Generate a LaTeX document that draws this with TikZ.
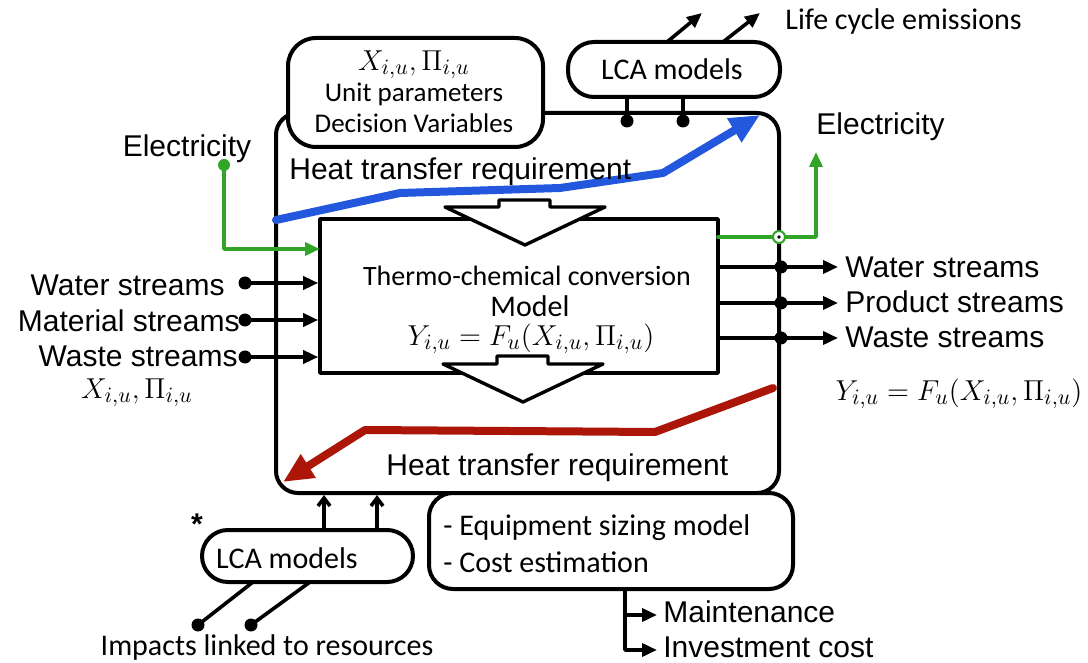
\documentclass[tikz,border=0pt]{standalone}
\usepackage[no-math]{fontspec}
\setmainfont{Liberation Sans}
\newfontfamily\calibri{Carlito}
\usetikzlibrary{arrows.meta,fit}
\definecolor{heatblue}{RGB}{35,88,222}
\definecolor{heatred}{RGB}{172,22,8}
\definecolor{elecgreen}{RGB}{48,165,40}
\tikzset{
  frame/.style={draw,line width=2pt,inner sep=0pt,fill=white},
  txt/.style={inner sep=0pt,font=\fontsize{15}{18}\selectfont},
  caltxt/.style={inner sep=0pt,font=\calibri\fontsize{15}{18}\selectfont},
  wire/.style={line width=1.8pt},
  flow/.style={wire,->},
  blob/.style={circle,fill,inner sep=0pt,minimum size=6.5pt},
  heat/.style={line width=4pt,-{Triangle[length=15pt,width=13pt]}},
  hollow/.style={line width=1.7pt,fill=white},
}
\begin{document}
\begin{tikzpicture}[line cap=round,line join=round,>={Triangle[length=7.5pt,width=6.5pt]},x=.5pt,y=-.5pt]
\useasboundingbox (0,0) rectangle (1088,663);
% unit
\node[frame,rounded corners=11pt,fit={(276,113) (779,493)}] (unit) {};
\draw[heat,heatblue] (276,220) -- (400,193) -- (560,188) -- (663,173) -- (760,115);
\draw[heat,heatred] (773,388) -- (655,432) -- (365,430) -- (283,482);
\node[txt,anchor=base west] (htop) at (289,180) {Heat transfer requirement};
\node[txt,anchor=base west] (hbot) at (386,475) {Heat transfer requirement};
% conversion model
\node[draw,line width=1.8pt,inner sep=0pt,fit={(320,219) (718,373)}] (model) {};
\draw[hollow] (499,200) -- (550,200) -- (550,207) -- (605,207) -- (525,245) -- (445,207) -- (499,207) -- cycle;
\draw[hollow] (497,356) -- (548,356) -- (548,364) -- (603,364) -- (523,402) -- (443,364) -- (497,364) -- cycle;
\node[caltxt,font=\calibri\fontsize{14}{17}\selectfont,anchor=base] (conv) at (527,286) {Thermo-chemical conversion};
\node[caltxt,anchor=base] (mdl) at (530,317) {Model};
\node[txt] (feq) at (531,339) {$Y_{i,u}=F_u(X_{i,u},\Pi_{i,u})$};
% parameters
\node[frame,rounded corners=14pt,fit={(288,38) (543,147)}] (par) {};
\node[txt] (xpi) at (414,65) {$X_{i,u},\Pi_{i,u}$};
\node[caltxt,font=\calibri\fontsize{13.5}{16}\selectfont,anchor=base] (upar) at (414,102) {Unit parameters};
\node[caltxt,font=\calibri\fontsize{13.5}{16}\selectfont,anchor=base] (dvar) at (414,133) {Decision Variables};
% lca top
\node[frame,rounded corners=13pt,fit={(568,42) (780,97)}] (lcat) {};
\node[caltxt,anchor=base] (lcattxt) at (672,80) {LCA models};
\coordinate (e1s) at (667,42);
\coordinate (e1) at (702,13);
\coordinate (e2s) at (723,42);
\coordinate (e2) at (760,13);
\draw[flow] (e1s) -- (e1);
\draw[flow] (e2s) -- (e2);
\node[caltxt,anchor=base west] (lce) at (785,30) {Life cycle emissions};
\coordinate (t1) at (627,97);
\coordinate (t2) at (683,97);
\node[blob] (t1d) at (627,121) {};
\node[blob] (t2d) at (683,121) {};
\draw[wire] (t1) -- (t1d.center);
\draw[wire] (t2) -- (t2d.center);
% electricity
\node[txt,anchor=base] (elin) at (187,157) {Electricity};
\node[blob,elecgreen,minimum size=6pt] (g1) at (224,165) {};
\coordinate (g1e) at (320,249);
\draw[flow,elecgreen] (g1.center) |- (g1e);
\coordinate (g2s) at (718,237);
\coordinate (g2e) at (816,152);
\draw[flow,elecgreen] (g2s) -| (g2e);
\node[circle,draw=elecgreen,line width=1pt,minimum size=6pt,inner sep=0pt,fill=white] (g2r) at (779,237) {};
\fill (g2r.center) circle (.9pt);
\node[txt,anchor=base west] (elout) at (816,135) {Electricity};
% inputs
\node[blob] (win) at (245,283) {};
\node[blob] (min) at (245,320) {};
\node[blob] (sin) at (245,357) {};
\draw[flow] (win.center) -- (win -| model.west);
\draw[flow] (min.center) -- (min -| model.west);
\draw[flow] (sin.center) -- (sin -| model.west);
\node[txt,anchor=base east] (wlab) at (225,296) {Water streams};
\node[txt,anchor=base east] (mlab) at (240,332) {Material streams};
\node[txt,anchor=base east] (slab) at (238,367) {Waste streams};
\node[txt] (xin) at (137,393) {$X_{i,u},\Pi_{i,u}$};
% outputs
\coordinate (wo) at (838,267);
\coordinate (po) at (838,303);
\coordinate (so) at (838,338);
\draw[flow] (model.east |- wo) -- (wo);
\draw[flow] (model.east |- po) -- (po);
\draw[flow] (model.east |- so) -- (so);
\node[blob] (wod) at (unit.east |- wo) {};
\node[blob] (pod) at (unit.east |- po) {};
\node[blob] (sod) at (unit.east |- so) {};
\node[txt,anchor=base west] (wout) at (845,278) {Water streams};
\node[txt,anchor=base west] (pout) at (845,313) {Product streams};
\node[txt,anchor=base west] (sout) at (845,348) {Waste streams};
\node[txt] (yout) at (959,394) {$Y_{i,u}=F_u(X_{i,u},\Pi_{i,u})$};
% lca bottom
\node[frame,rounded corners=13pt,fit={(202,530) (413,582)}] (lcab) {};
\node[caltxt,anchor=base] (lcabtxt) at (287,568) {LCA models};
\node[txt,font=\fontsize{15}{18}\selectfont\bfseries] (star) at (197,524) {*};
\coordinate (u1) at (324,530);
\coordinate (u2) at (377,530);
\draw[wire,-{Straight Barb[length=4pt,width=6pt]}] (u1) -- (u1 |- unit.south);
\draw[wire,-{Straight Barb[length=4pt,width=6pt]}] (u2) -- (u2 |- unit.south);
\coordinate (b1) at (253,582);
\coordinate (b2) at (310,582);
\node[blob] (r1) at (198,625) {};
\node[blob] (r2) at (251,625) {};
\draw[wire] (b1) -- (r1.center);
\draw[wire] (b2) -- (r2.center);
\node[caltxt,anchor=base] (imp) at (267,655) {Impacts linked to resources};
% costing
\node[frame,rounded corners=12pt,fit={(429,493) (793,589)}] (eq) {};
\node[caltxt,anchor=base west] (eq1) at (443,535) {- Equipment sizing model};
\node[caltxt,anchor=base west] (eq2) at (443,572) {- Cost estimation};
\coordinate (c0) at (625,589);
\coordinate (c1) at (657,615);
\coordinate (c2) at (657,650);
\draw[flow] (c0) |- (c2);
\draw[flow] (c0 |- c1) -- (c1);
\node[txt,anchor=base west] (mnt) at (663,622) {Maintenance};
\node[txt,anchor=base west] (inv) at (663,657) {Investment cost};
\end{tikzpicture}
\end{document}
